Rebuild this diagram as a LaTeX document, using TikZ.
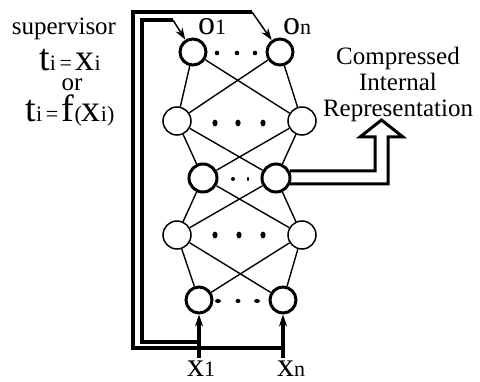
\documentclass[tikz,border=0pt]{standalone}
\usepackage{fontspec}
\setmainfont{Liberation Serif}
\usepackage{tikz}
\usetikzlibrary{arrows.meta,calc}
\definecolor{rline}{HTML}{000000}
\tikzset{rneuron/.style={circle, draw=rline, line width=1.5pt, minimum size=28pt, inner sep=0pt}}
\tikzset{rneuronthick/.style={rneuron, line width=3pt, minimum size=26pt}}
\tikzset{rlink/.style={draw=rline, line width=1.4pt}}
\tikzset{rloop/.style={draw=rline, line width=3.2pt, line join=miter}}
\tikzset{rfeed/.style={-{Stealth[length=12pt, width=8pt]}, draw=rline, line width=1.5pt}}
\tikzset{rinput/.style={-{Stealth[length=12pt, width=8pt]}, draw=rline, line width=3.2pt}}
\tikzset{rhollow/.style={draw=rline, line width=3pt, line join=miter}}
\tikzset{rtext/.style={font=\fontsize{25}{26}\selectfont, inner sep=0pt, align=center}}
\newcommand{\rbigch}[1]{{\fontsize{38}{38}\selectfont #1}}
\newcommand{\rsubch}[1]{{\fontsize{22}{22}\selectfont #1}}
\newcommand{\rlabch}[1]{{\fontsize{34}{34}\selectfont #1}}

\begin{document}
\begin{tikzpicture}[x=1pt, y=-1pt]
  \useasboundingbox (0,0) rectangle (480,382);

  \node[rneuronthick] (out1) at (193,52) {};
  \node[rneuronthick] (outn) at (280,52) {};
  \node[rneuron] (hida) at (177,121) {};
  \node[rneuron] (hidb) at (302,121) {};
  \node[rneuronthick, minimum size=28pt] (codea) at (203,178) {};
  \node[rneuronthick, minimum size=28pt] (codeb) at (276,178) {};
  \node[rneuron] (hidc) at (177,235) {};
  \node[rneuron] (hidd) at (302,235) {};
  \node[rneuronthick] (ina) at (199,300) {};
  \node[rneuronthick] (inn) at (283,300) {};

  \node[rtext, anchor=base west] (out1label) at (198,35) {\rlabch{o}\rsubch{1}};
  \node[rtext, anchor=base west] (outnlabel) at (283,35) {\rlabch{o}\rsubch{n}};
  \node[rtext, anchor=base west, text height=16pt, text depth=0pt] (inalabel) at (187,377) {\rlabch{x}\rsubch{1}};
  \node[rtext, anchor=base west, text height=16pt, text depth=0pt] (innlabel) at (277,377) {\rlabch{x}\rsubch{n}};

  \node[rtext, anchor=base] (supervisor) at (64,35) {supervisor};
  \node[rtext, anchor=base, text height=20pt, text depth=0pt] (targeta) at (70,71) {\rbigch{t}\rsubch{i\,=\,}\rbigch{x}\rsubch{i}};
  \node[rtext, anchor=base, text height=11pt, text depth=0pt] (ortext) at (72,91) {or};
  \node[rtext, anchor=base, text height=20pt, text depth=3pt] (targetb) at (70,122) {\rbigch{t}\rsubch{i\,=\,}\rbigch{f}\rsubch{(}\rbigch{x}\rsubch{i)}};
  \node[rtext] (compressed) at (398,84) {Compressed\\Internal\\Representation};

  % dots between the units of each layer
  \fill (217,53) circle (2.3pt) (237,53) circle (2.3pt) (255,53) circle (2.3pt);
  \fill (215,123) ellipse [x radius=2.6pt, y radius=3.4pt] (238,123) ellipse [x radius=2.6pt, y radius=3.4pt] (263,123) ellipse [x radius=2.6pt, y radius=3.4pt];
  \fill (233,179) circle (2pt) (248,179) ellipse [x radius=1pt, y radius=2.2pt];
  \fill (215,235) ellipse [x radius=2.6pt, y radius=3.4pt] (239,235) ellipse [x radius=2.6pt, y radius=3.4pt] (263,235) ellipse [x radius=2.6pt, y radius=3.4pt];
  \fill (218,301) ellipse [x radius=3pt, y radius=2pt] (238,301) ellipse [x radius=2.5pt, y radius=2pt] (257,301) ellipse [x radius=3pt, y radius=2pt];

  \draw[rlink] (out1) -- (hida);
  \draw[rlink] (out1) -- (hidb);
  \draw[rlink] (outn) -- (hida);
  \draw[rlink] (outn) -- (hidb);
  \draw[rlink] (hida) -- (codea);
  \draw[rlink] (hida) -- (codeb);
  \draw[rlink] (hidb) -- (codea);
  \draw[rlink] (hidb) -- (codeb);
  \draw[rlink] (codea) -- (hidc);
  \draw[rlink] (codea) -- (hidd);
  \draw[rlink] (codeb) -- (hidc);
  \draw[rlink] (codeb) -- (hidd);
  \draw[rlink] (hidc) -- (ina);
  \draw[rlink] (hidc) -- (inn);
  \draw[rlink] (hidd) -- (ina);
  \draw[rlink] (hidd) -- (inn);

  % inputs and the supervisor loops back to the outputs
  \coordinate (xa) at (199,358);
  \coordinate (xn) at (283,358);
  \coordinate (xatap) at (199,342);
  \coordinate (xntap) at (283,348);
  \coordinate (out1bend) at (173,20);
  \coordinate (outnbend) at (252,12);
  \draw[rinput] (xa) -- (ina);
  \draw[rinput] (xn) -- (inn);
  \draw[rloop] (xatap) -- (142,342) -- (142,20) -- (out1bend);
  \draw[rloop] (xntap) -- (133,348) -- (133,12) -- (outnbend);
  \draw[rfeed] (out1bend) -- (out1);
  \draw[rfeed] (outnbend) -- (outn);

  \coordinate (crtip) at (381.5,120);
  \draw[rhollow] ($(codeb.east)+(-1.5,-7)$) -- (375,171) -- (375,137) -- (360,137) -- (crtip) -- (403,137) -- (388,137) -- (388,184) -- ($(codeb.east)+(-1.5,6)$);
\end{tikzpicture}
\end{document}
